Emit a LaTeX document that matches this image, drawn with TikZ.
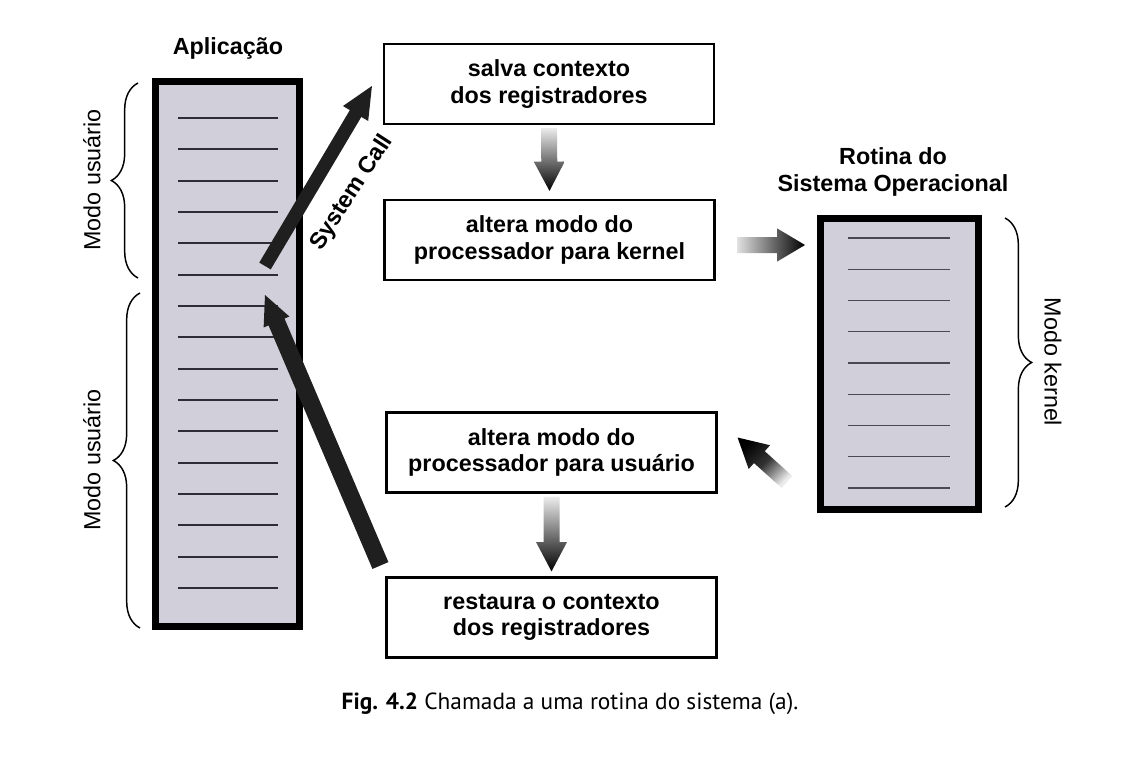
\documentclass[tikz,border=0pt]{standalone}
\usepackage{fontspec}
\setmainfont{Liberation Sans}
\newfontfamily\capfont{PT Sans}
\usetikzlibrary{calc,decorations.pathreplacing}
\definecolor{colfill}{HTML}{D1CFDA}
\definecolor{rulecol}{HTML}{2E2C36}
\definecolor{rulecolb}{HTML}{4A4853}
% #1 options, #2 tail, #3 tip, #4 shaft half width, #5 head half width, #6 head length
\newcommand{\fatarrow}[6]{%
  \path[#1] ($(#2)!#4!90:(#3)$) -- ($(#3)!#6!(#2)!#4!90:(#3)$) -- ($(#3)!#6!(#2)!#5!90:(#3)$) -- (#3)
    -- ($(#3)!#6!(#2)!#5!-90:(#3)$) -- ($(#3)!#6!(#2)!#4!-90:(#3)$) -- ($(#2)!#4!-90:(#3)$) -- cycle;}
\tikzset{
  bigfont/.style={font=\fontsize{17.5}{20}\selectfont\bfseries},
  box/.style={draw, line width=1.6pt, minimum width=247.5pt, minimum height=60pt,
    align=center, inner sep=0pt, bigfont},
  column/.style={draw, line width=5.25pt, fill=colfill, inner sep=0pt},
  title/.style={align=center, inner sep=0pt, bigfont},
  side/.style={inner sep=0pt, font=\fontsize{17.5}{20}\selectfont},
  bracestyle/.style={decorate, decoration={brace, amplitude=20pt}, line width=1.1pt},
}
\begin{document}
\begin{tikzpicture}[x=0.75pt, y=-0.75pt]
\useasboundingbox (0,0) rectangle (1123,757);
\fill[white] (0,0) rectangle (1123,757);

% columns
\node[column, minimum width=108pt, minimum height=408.75pt] (app) at (227.5,354) {};
\node[column, minimum width=118.5pt, minimum height=218.25pt] (sys) at (899.5,364) {};
\foreach \i in {0,...,15}
  \draw[rulecol, line width=1.4pt] (178,{118+31.33*\i}) -- (278,{118+31.33*\i});
\foreach \i in {0,...,8}
  \draw[rulecolb, line width=1pt] (848,{238+31.25*\i}) -- (950,{238+31.25*\i});

% titles
\node[title] (tapp) at (228,48) {Aplicação};
\node[title] (tsys) at (893,172) {Rotina do\\Sistema Operacional};

% boxes
\node[box] (b1) at (549,84) {salva contexto\\dos registradores};
\node[box] (b2) at (549.5,240) {altera modo do\\processador para kernel};
\node[box] (b3) at (551.5,452.5) {altera modo do\\processador para usuário};
\node[box] (b4) at (551.5,617.5) {restaura o contexto\\dos registradores};

% braces and side labels
\draw[bracestyle] (138,278) -- (138,83);
\draw[bracestyle] (140,628) -- (140,293);
\draw[bracestyle] (1005,218) -- (1005,507);
\node[side, rotate=90] (mu1) at (92,180) {Modo usuário};
\node[side, rotate=90] (mu2) at (92,460) {Modo usuário};
\node[side, rotate=-90] (mk) at (1053,362) {Modo kernel};

% fat arrows
\coordinate (d1a) at ($(b1.south)+(0,3)$);
\coordinate (d1b) at ($(b2.north)+(0,-8)$);
\fatarrow{shade, top color=gray!15, middle color=black!85, bottom color=black}{d1a}{d1b}{6pt}{11.6pt}{22pt}
\coordinate (d2a) at ($(b3.south)+(0,3)$);
\coordinate (d2b) at ($(b4.north)+(0,-5)$);
\fatarrow{shade, top color=gray!15, middle color=black!85, bottom color=black}{d2a}{d2b}{6pt}{11.6pt}{22pt}
\coordinate (ra) at ($(b2.east)+(22,5)$);
\coordinate (rb) at ($(sys.west|-ra)+(-12,0)$);
\fatarrow{shade, left color=gray!25, middle color=black!85, right color=black}{ra}{rb}{6pt}{12.5pt}{21pt}
\coordinate (ua) at ($(sys.west)+(-30,118)$);
\coordinate (ub) at ($(b3.east)+(20,-15)$);
\fatarrow{shade, top color=black, bottom color=gray!15, middle color=black!80, shading angle=45}{ua}{ub}{6pt}{12pt}{22pt}

% system call and return arrows
\coordinate (sca) at ($(app.east)+(-38,-88)$);
\coordinate (scb) at ($(b1.west)+(-11,2)$);
\fatarrow{fill=black!88}{sca}{scb}{5pt}{11pt}{24pt}
\node[bigfont, rotate=57, inner sep=0pt] (sclabel) at (352,193) {System Call};
\coordinate (rta) at ($(b4.west)+(-5,-52)$);
\coordinate (rtb) at ($(app.east)+(-38,-59)$);
\fatarrow{fill=black!88}{rta}{rtb}{6.5pt}{10.5pt}{22pt}

% caption
\node[anchor=base, inner sep=0pt, font=\capfont\fontsize{17.5}{20}\selectfont] (cap) at (570,709)
  {\textbf{Fig. 4.2} Chamada a uma rotina do sistema (a).};
\end{tikzpicture}
\end{document}
